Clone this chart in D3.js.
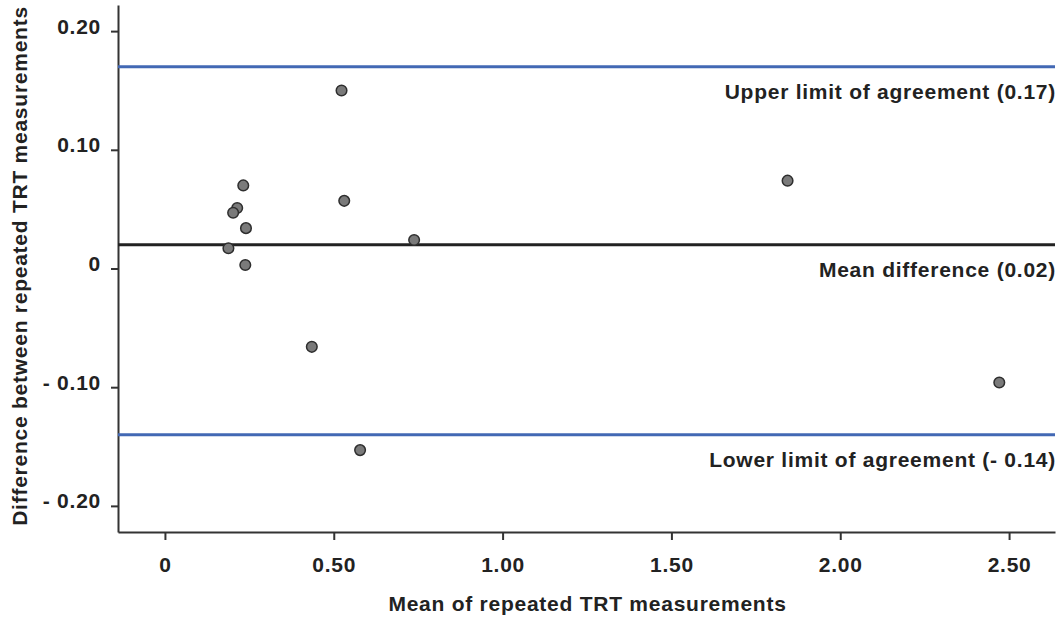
<!DOCTYPE html>
<html>
<head>
<meta charset="utf-8">
<script src="https://cdn.jsdelivr.net/npm/d3@7"></script>
<style>
  body { margin: 0; background: #fff; }
  svg text { font-family: "Liberation Sans", Arial, sans-serif; font-weight: bold; fill: #222; letter-spacing: 0.75px; }
</style>
</head>
<body>
<div id="chart"></div>
<script>
// data
const meanVals = [0.523, 0.232, 0.214, 0.202, 0.240, 0.188, 0.238, 0.531, 0.738, 0.435, 0.578, 1.844, 2.471];
const diffVals = [0.150, 0.070, 0.051, 0.047, 0.034, 0.017, 0.003, 0.057, 0.024, -0.066, -0.153, 0.074, -0.096];

const xTickVals = [0, 0.5, 1.0, 1.5, 2.0, 2.5];
const yTickVals = [0.2, 0.1, 0, -0.1, -0.2];

const refVals = [0.17, 0.02, -0.14];
const refLabels = ['Upper limit of agreement (0.17)', 'Mean difference (0.02)', 'Lower limit of agreement (- 0.14)'];
const refColors = ['#4268b4', '#222', '#4268b4'];

const width = 1063;
const height = 620;
const margin = { top: 5, right: 8, bottom: 88, left: 118 };
const fontSize = '21px';

const svg = d3.select('#chart')
  .append('svg')
  .attr('width', width)
  .attr('height', height);

const x = d3.scaleLinear()
  .domain([-0.139, 2.636])
  .range([margin.left, width - margin.right]);

const y = d3.scaleLinear()
  .domain([-0.222, 0.222])
  .range([height - margin.bottom, margin.top]);

// tick labels like "- 0.10"
const fmt = function (d) {
  if (d === 0) return '0';
  return (d < 0 ? '- ' : '') + Math.abs(d).toFixed(2);
};

// x axis
const xAxis = svg.append('g')
  .attr('transform', 'translate(0,' + (height - margin.bottom) + ')')
  .call(d3.axisBottom(x).tickValues(xTickVals).tickFormat(fmt).tickSizeInner(8).tickSizeOuter(0).tickPadding(17));

// y axis
const yAxis = svg.append('g')
  .attr('transform', 'translate(' + margin.left + ',0)')
  .call(d3.axisLeft(y).tickValues(yTickVals).tickFormat(fmt).tickSizeInner(7).tickSizeOuter(0).tickPadding(10));

[xAxis, yAxis].forEach(function (ax) {
  ax.select('.domain').attr('stroke', '#333').attr('stroke-width', 2);
  ax.selectAll('.tick line').attr('stroke', '#333').attr('stroke-width', 2);
  ax.selectAll('.tick text')
    .attr('fill', '#222')
    .style('font-size', fontSize)
    .style('font-family', '"Liberation Sans", Arial, sans-serif');
});
yAxis.selectAll('.tick text').attr('dy', '0.1em');

// reference lines (limits of agreement and mean)
svg.selectAll('.ref-line')
  .data(refVals)
  .enter()
  .append('line')
  .attr('class', 'ref-line')
  .attr('x1', x.range()[0])
  .attr('x2', x.range()[1])
  .attr('y1', function (d) { return y(d); })
  .attr('y2', function (d) { return y(d); })
  .attr('stroke', function (d, i) { return refColors[i]; })
  .attr('stroke-width', 3);

svg.selectAll('.ref-label')
  .data(refVals)
  .enter()
  .append('text')
  .attr('class', 'ref-label')
  .attr('x', x.range()[1] + 1)
  .attr('y', function (d) { return y(d) + 32; })
  .attr('text-anchor', 'end')
  .style('font-size', fontSize)
  .text(function (d, i) { return refLabels[i]; });

// points
svg.selectAll('.dot')
  .data(meanVals)
  .enter()
  .append('circle')
  .attr('class', 'dot')
  .attr('cx', function (d) { return x(d); })
  .attr('cy', function (d, i) { return y(diffVals[i]); })
  .attr('r', 5.3)
  .attr('fill', '#7a7a7a')
  .attr('stroke', '#2e2e2e')
  .attr('stroke-width', 1.5);

// axis titles
svg.append('text')
  .attr('x', (x.range()[0] + x.range()[1]) / 2 + 1)
  .attr('y', 611)
  .attr('text-anchor', 'middle')
  .style('font-size', fontSize)
  .text('Mean of repeated TRT measurements');

svg.append('text')
  .attr('transform', 'translate(27,' + 266 + ') rotate(-90)')
  .attr('text-anchor', 'middle')
  .style('font-size', fontSize)
  .text('Difference between repeated TRT measurements');
</script>
</body>
</html>
